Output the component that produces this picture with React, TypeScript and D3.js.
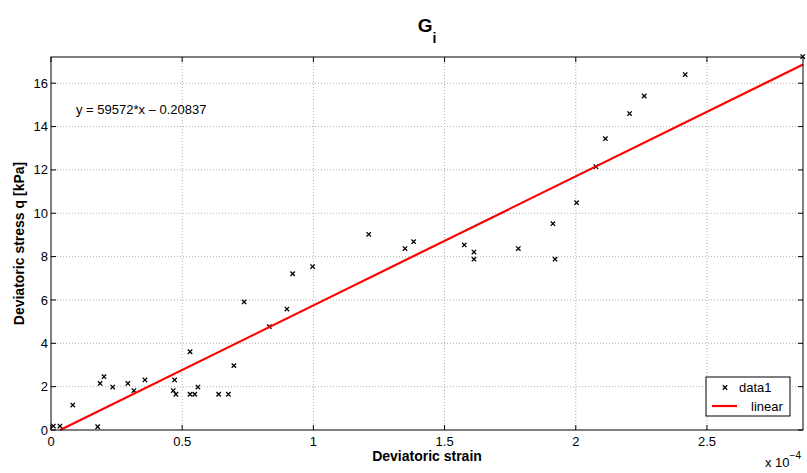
import React from "react";
import { scaleLinear, line } from "d3";

// strain values in units of 1e-4
const strainValues = [
  0.009, 0.034, 0.083, 0.178, 0.187, 0.202, 0.235, 0.293, 0.316, 0.358, 0.466, 0.471, 0.476,
  0.53, 0.53, 0.548, 0.56, 0.639, 0.676, 0.697, 0.736, 0.832, 0.899, 0.921, 0.997, 1.211,
  1.349, 1.382, 1.575, 1.612, 1.612, 1.781, 1.913, 1.921, 2.003, 2.077, 2.113, 2.205, 2.261,
  2.417, 2.865,
];
const stressValues = [
  0.18, 0.18, 1.15, 0.15, 2.15, 2.46, 1.98, 2.15, 1.82, 2.31, 1.82, 2.31, 1.65,
  3.61, 1.65, 1.65, 1.98, 1.65, 1.65, 2.97, 5.91, 4.77, 5.58, 7.21, 7.54, 9.03,
  8.37, 8.69, 8.54, 8.21, 7.88, 8.37, 9.52, 7.88, 10.49, 12.15, 13.44, 14.6, 15.41,
  16.4, 17.23,
];
const xTicks = [0, 0.5, 1, 1.5, 2, 2.5];
const yTicks = [0, 2, 4, 6, 8, 10, 12, 14, 16];
const slope = 59572;
const intercept = -0.20837;

const App = () => {
  const width = 807;
  const height = 473;
  const margin = { top: 57, right: 4, bottom: 43, left: 51 };
  const innerWidth = width - margin.left - margin.right;
  const innerHeight = height - margin.top - margin.bottom;
  const xMax = 2.866;
  const yMax = 17.21;

  const xScale = scaleLinear().domain([0, xMax]).range([0, innerWidth]);
  const yScale = scaleLinear().domain([0, yMax]).range([innerHeight, 0]);

  // fitted line, from where it crosses y=0 up to the right edge
  const fit = (x) => slope * x * 1e-4 + intercept;
  const x0 = -intercept / (slope * 1e-4);
  const fitPoints = [
    [x0, 0],
    [xMax, fit(xMax)],
  ];
  const fitPath = line()
    .x((d) => xScale(d[0]))
    .y((d) => yScale(d[1]))(fitPoints);

  const font = "Liberation Sans, Arial, Helvetica, sans-serif";
  const tickLen = 5;
  const cross = 2.2;

  return (
    <svg
      width={width}
      height={height}
      style={{ position: "absolute", left: 0, top: 0, background: "white" }}
      fontFamily={font}
    >
      <rect width={width} height={height} fill="white" />
      <text x={427} y={32} textAnchor="middle" fontSize={19} fontWeight="bold">
        G
        <tspan fontSize={14} dy={11}>
          i
        </tspan>
      </text>
      <g transform={`translate(${margin.left},${margin.top})`}>
        {/* grid */}
        {xTicks.slice(1).map((t) => (
          <line
            key={"gx" + t}
            x1={xScale(t)}
            x2={xScale(t)}
            y1={0}
            y2={innerHeight}
            stroke="#b0b0b0"
            strokeDasharray="1,2"
          />
        ))}
        {yTicks.slice(1).map((t) => (
          <line
            key={"gy" + t}
            x1={0}
            x2={innerWidth}
            y1={yScale(t)}
            y2={yScale(t)}
            stroke="#b0b0b0"
            strokeDasharray="1,2"
          />
        ))}
        {/* data markers */}
        {strainValues.map((sx, i) => {
          const cx = xScale(sx);
          const cy = yScale(stressValues[i]);
          return (
            <path
              key={i}
              d={`M${cx - cross},${cy - cross}L${cx + cross},${cy + cross}M${cx - cross},${cy + cross}L${cx + cross},${cy - cross}`}
              stroke="black"
              strokeWidth={1.3}
            />
          );
        })}
        <path d={fitPath} stroke="#ff0000" strokeWidth={2.2} fill="none" />
        {/* axes box */}
        <rect x={0} y={0} width={innerWidth} height={innerHeight} fill="none" stroke="black" strokeWidth={1} />
        {xTicks.map((t) => (
          <g key={"tx" + t} transform={`translate(${xScale(t)},0)`}>
            <line y1={innerHeight} y2={innerHeight - tickLen} stroke="black" />
            <line y1={0} y2={tickLen} stroke="black" />
            <text y={innerHeight + 16} textAnchor="middle" fontSize={13}>
              {t}
            </text>
          </g>
        ))}
        {yTicks.map((t) => (
          <g key={"ty" + t} transform={`translate(0,${yScale(t)})`}>
            <line x1={0} x2={tickLen} stroke="black" />
            <line x1={innerWidth} x2={innerWidth - tickLen} stroke="black" />
            <text x={-3} dy="0.35em" textAnchor="end" fontSize={13}>
              {t}
            </text>
          </g>
        ))}
        <text x={25} y={57} fontSize={13}>
          y = 59572*x – 0.20837
        </text>
        {/* legend */}
        <g transform={`translate(${706 - margin.left},${377 - margin.top})`}>
          <rect width={84} height={39} fill="white" stroke="black" />
          <path
            d={`M${19 - cross},${10.5 - cross}L${19 + cross},${10.5 + cross}M${19 - cross},${10.5 + cross}L${19 + cross},${10.5 - cross}`}
            stroke="black"
            strokeWidth={1.3}
          />
          <text x={33} y={15} fontSize={13}>
            data1
          </text>
          <line x1={6} x2={31} y1={29} y2={29} stroke="#ff0000" strokeWidth={2.2} />
          <text x={45} y={34} fontSize={13}>
            linear
          </text>
        </g>
      </g>
      <text x={427} y={461} textAnchor="middle" fontSize={14} fontWeight="bold">
        Deviatoric strain
      </text>
      <text
        transform={`translate(24,${margin.top + innerHeight / 2}) rotate(-90)`}
        textAnchor="middle"
        fontSize={14}
        fontWeight="bold"
      >
        Deviatoric stress q [kPa]
      </text>
      <text x={765} y={467} fontSize={13}>
        x 10
        <tspan fontSize={10} dy={-8}>
          −4
        </tspan>
      </text>
    </svg>
  );
};

export default App;
